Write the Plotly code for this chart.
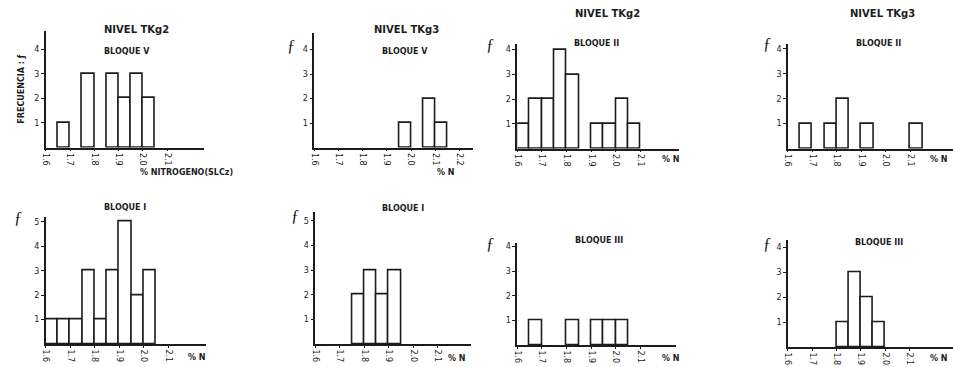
import plotly.graph_objects as go

# Lower edge of each 0.05 %N class
bin_edges = [1.60, 1.65, 1.70, 1.75, 1.80, 1.85, 1.90, 1.95, 2.00, 2.05, 2.10, 2.15]
bin_width = 0.05

# Frequencies per class (nivel / bloque)
freq_tkg2_bloque_v = [0, 1, 0, 3, 0, 3, 2, 3, 2, 0, 0, 0]
freq_tkg3_bloque_v = [0, 0, 0, 0, 0, 0, 0, 1, 0, 2, 1, 0]
freq_tkg2_bloque_ii = [1, 2, 2, 4, 3, 0, 1, 1, 2, 1, 0, 0]
freq_tkg3_bloque_ii = [0, 1, 0, 1, 2, 0, 1, 0, 0, 0, 1, 0]
freq_tkg2_bloque_i = [1, 1, 1, 3, 1, 3, 5, 2, 3, 0, 0, 0]
freq_tkg3_bloque_i = [0, 0, 0, 2, 3, 2, 3, 0, 0, 0, 0, 0]
freq_tkg2_bloque_iii = [0, 1, 0, 0, 1, 0, 1, 1, 1, 0, 0, 0]
freq_tkg3_bloque_iii = [0, 0, 0, 0, 1, 3, 2, 1, 0, 0, 0, 0]

x_tick_vals = [1.6, 1.7, 1.8, 1.9, 2.0, 2.1]
x_tick_vals_wide = [1.6, 1.7, 1.8, 1.9, 2.0, 2.1, 2.2]
y_ticks_4 = [1, 2, 3, 4]
y_ticks_5 = [1, 2, 3, 4, 5]

bloque_labels = ["BLOQUE V", "BLOQUE V", "BLOQUE II", "BLOQUE II",
                 "BLOQUE I", "BLOQUE I", "BLOQUE III", "BLOQUE III"]
nivel_labels = ["NIVEL TKg2", "NIVEL TKg3"]

W, H = 953, 367
INK = "#1c1c1c"
FONT = "DejaVu Sans"


def px(x):
    return x / W


def py(y):
    return 1 - y / H


# Panel frames in pixels: y-axis x, x-axis end, baseline y, axis top y,
# pixels per 0.1 %N, pixels per unit of frequency
frames = [
    (41, 200, 147, 30, 24.4, 24.7),
    (311, 470, 147, 32, 24.3, 24.6),
    (515, 678, 148, 43, 24.8, 24.8),
    (787, 953, 148, 43, 24.6, 25.0),
    (41, 202, 344, 217, 24.6, 24.5),
    (312, 468, 344, 212, 24.6, 24.7),
    (515, 675, 345, 243, 24.8, 24.7),
    (787, 953, 347, 240, 24.5, 25.0),
]
series = [freq_tkg2_bloque_v, freq_tkg3_bloque_v, freq_tkg2_bloque_ii, freq_tkg3_bloque_ii,
          freq_tkg2_bloque_i, freq_tkg3_bloque_i, freq_tkg2_bloque_iii, freq_tkg3_bloque_iii]
x_ticks = [x_tick_vals, x_tick_vals_wide] + [x_tick_vals] * 6
y_ticks = [y_ticks_4] * 4 + [y_ticks_5] * 2 + [y_ticks_4] * 2

fig = go.Figure()
layout_axes = {}
for i, (frame, freq) in enumerate(zip(frames, series)):
    x0, x1, yb, yt, ppx, ppy = frame
    n = i + 1
    xa = "x" if n == 1 else f"x{n}"
    ya = "y" if n == 1 else f"y{n}"
    xs = [e + bin_width / 2 for e, f in zip(bin_edges, freq) if f > 0]
    ys = [f for f in freq if f > 0]
    fig.add_trace(go.Bar(
        x=xs, y=ys, width=bin_width, xaxis=xa, yaxis=ya,
        marker=dict(color="white", line=dict(color=INK, width=1.6)),
        showlegend=False, hoverinfo="x+y",
    ))
    xmax = 1.6 + (x1 - x0) / ppx * 0.1
    ymax = (yb - yt) / ppy
    layout_axes["xaxis" if n == 1 else f"xaxis{n}"] = dict(
        domain=[px(x0), min(px(x1), 1.0)], anchor=ya, range=[1.6, xmax],
        showline=True, linecolor=INK, linewidth=1.6, showgrid=False, zeroline=False,
        tickmode="array", tickvals=x_ticks[i], ticktext=[f"{v:.1f}" for v in x_ticks[i]],
        tickangle=90, ticks="outside", ticklen=2, tickcolor=INK,
        tickfont=dict(family=FONT, size=8, color=INK),
    )
    layout_axes["yaxis" if n == 1 else f"yaxis{n}"] = dict(
        domain=[py(yb), py(yt)], anchor=xa, range=[0, ymax],
        showline=True, linecolor=INK, linewidth=1.6, showgrid=False, zeroline=False,
        tickmode="array", tickvals=y_ticks[i], ticktext=[str(v) for v in y_ticks[i]],
        ticks="outside", ticklen=3, tickcolor=INK,
        tickfont=dict(family=FONT, size=8, color=INK),
    )


def note(text, x, y, size=9, angle=0, family=FONT, bold=True):
    t = f"<b>{text}</b>" if bold else text
    fig.add_annotation(text=t, x=px(x), y=py(y), xref="paper", yref="paper",
                       showarrow=False, textangle=angle, xanchor="center", yanchor="middle",
                       font=dict(family=family, size=size, color=INK))


# Nivel headings
note(nivel_labels[0], 132, 29, size=10)
note(nivel_labels[1], 404, 29, size=10)
note(nivel_labels[0], 606, 13, size=10)
note(nivel_labels[1], 882, 13, size=10)

# Bloque headings
bloque_pos = [(123, 51), (402, 51), (595, 43), (878, 43),
              (121, 207), (400, 208), (597, 240), (879, 242)]
for lab, (bx, by) in zip(bloque_labels, bloque_pos):
    note(lab, bx, by, size=8)

# Frequency symbols
note("FRECUENCIA : ƒ", 17, 88, size=8, angle=-90)
for fx, fy in [(288, 45), (488, 44), (767, 43), (14, 217), (292, 215), (488, 243), (767, 243)]:
    note("ƒ", fx, fy, size=17, family="Liberation Serif", bold=False)

# Axis titles
note("% NITROGENO(SLCz)", 182, 172, size=8)
for nx, ny in [(443, 172), (670, 159), (939, 159), (193, 357), (454, 358), (670, 358), (939, 358)]:
    note("% N", nx, ny, size=8)

fig.update_layout(
    width=W, height=H, margin=dict(l=0, r=0, t=0, b=0),
    paper_bgcolor="white", plot_bgcolor="rgba(0,0,0,0)",
    bargap=0, **layout_axes,
)

fig.write_html("out.html")
